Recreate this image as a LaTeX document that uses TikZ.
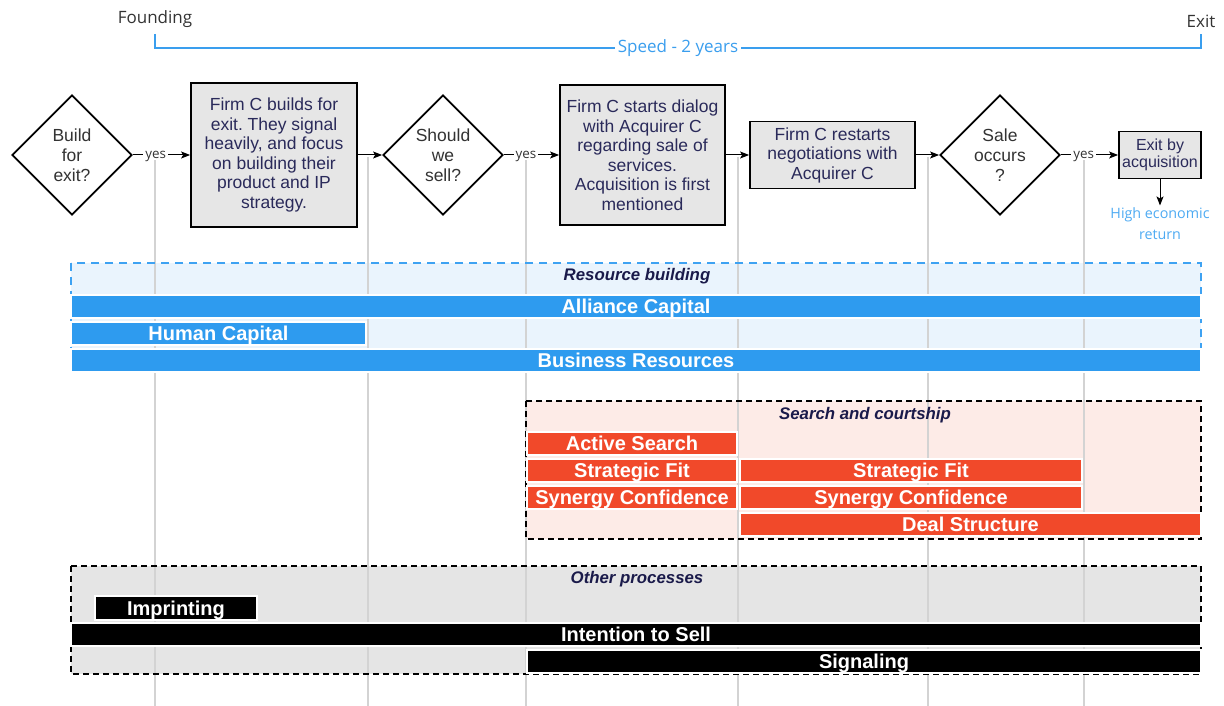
\documentclass[tikz,border=0pt]{standalone}
\usepackage{fontspec}
\setmainfont{Liberation Sans}
\newfontfamily\osans{Open Sans}
\usetikzlibrary{shapes.geometric,arrows.meta}
\definecolor{barblue}{HTML}{2E9BEF}
\definecolor{secblue}{HTML}{EAF4FD}
\definecolor{dashblue}{HTML}{3EA2F2}
\definecolor{barred}{HTML}{F1492A}
\definecolor{secpink}{HTML}{FDEBE7}
\definecolor{secgrey}{HTML}{E5E5E5}
\definecolor{gridgrey}{HTML}{D3D3D3}
\definecolor{boxgrey}{HTML}{E6E6E6}
\definecolor{navy}{HTML}{2A2A5A}
\definecolor{titlenavy}{HTML}{1A1A4A}
\definecolor{speedblue}{HTML}{3A9EEE}
\definecolor{retblue}{HTML}{4DAAF2}
\definecolor{darktext}{HTML}{333333}
\frenchspacing
\begin{document}
\begin{tikzpicture}[x=1pt,y=-1pt,
  decision/.style={diamond,aspect=1,draw=black,line width=1.8pt,fill=white,
    minimum width=120pt,minimum height=120pt,inner sep=0pt,align=center,
    text=darktext,font=\fontsize{17.5}{20}\selectfont},
  stepbox/.style={rectangle,draw=black,line width=1.8pt,fill=boxgrey,inner sep=0pt,
    align=center,text=navy,font=\fontsize{17.5}{19.5}\selectfont},
  flow/.style={draw=black,line width=1pt,-{Stealth[length=9pt,width=7pt,inset=2pt]}},
  yeslbl/.style={fill=white,inner sep=2pt,text height=7pt,text depth=0pt,text=darktext,
    font=\osans\fontsize{13.4}{14}\selectfont},
  bar/.style={rectangle,draw=white,line width=1.2pt,inner sep=0pt,minimum height=23pt,
    text=white,font=\bfseries\fontsize{20}{20}\selectfont,text height=14.3pt,text depth=0pt},
  bluebar/.style={bar,fill=barblue},
  redbar/.style={bar,fill=barred},
  blackbar/.style={bar,fill=black},
  sectitle/.style={text=titlenavy,font=\bfseries\itshape\fontsize{16.8}{18}\selectfont},
  gridline/.style={draw=gridgrey,line width=1.6pt},
]
\useasboundingbox (0,0) rectangle (1224,706);

% ---- Timeline bracket
\node[text=darktext,font=\osans\fontsize{17}{18}\selectfont] (founding) at (155,19) {Founding};
\node[text=darktext,font=\osans\fontsize{17}{18}\selectfont] (exit) at (1201,21) {Exit};
\coordinate (fstart) at (155,34);
\coordinate (fend) at (1201,34);
\draw[draw=speedblue,line width=2pt] (fstart) -- ++(0,14) -| (fend);
\node[fill=white,inner sep=3pt,text=speedblue,font=\osans\fontsize{17}{18}\selectfont] (speed) at (678,48) {Speed - 2 years};

% ---- Section backgrounds
\fill[secblue] (71,263) rectangle (1201,372);
\fill[secpink] (526,401) rectangle (1201,539);
\fill[secgrey] (71,566) rectangle (1201,674);

% ---- Grid lines
\foreach \gx in {155,368,526,738,928,1084}
  \draw[gridline] (\gx,157) -- (\gx,706);

% ---- Section borders
\draw[dashblue,line width=2pt,dash pattern=on 8pt off 6pt] (71,263) rectangle (1201,372);
\draw[black,line width=2pt,dash pattern=on 6pt off 4pt] (526,401) rectangle (1201,539);
\draw[black,line width=2pt,dash pattern=on 6pt off 4pt] (71,566) rectangle (1201,674);

% ---- Flow nodes
\node[decision] (d1) at (72,155) {Build\\for\\exit?};
\node[stepbox,minimum width=166pt,minimum height=144pt] (b1) at (274,155)
  {Firm C builds for\\exit. They signal\\heavily, and focus\\on building their\\product and IP\\strategy.};
\node[decision] (d2) at (443,155) {Should\\we\\sell?};
\node[stepbox,minimum width=165pt,minimum height=140pt] (b2) at (642.5,155)
  {Firm C starts dialog\\with Acquirer C\\regarding sale of\\services.\\Acquisition is first\\mentioned};
\node[stepbox,minimum width=165pt,minimum height=67pt] (b3) at (832.5,155)
  {Firm C restarts\\negotiations with\\Acquirer C};
\node[decision] (d3) at (1000,155) {Sale\\occurs\\?};
\node[stepbox,minimum width=82pt,minimum height=47pt,font=\fontsize{16}{17}\selectfont] (b4) at (1160,155)
  {Exit by\\acquisition};
\node[align=center,text=retblue,font=\osans\fontsize{14.3}{21}\selectfont] (ret) at (1160,224)
  {High economic\\return};

% ---- Flow connectors
\draw[flow] (d1.east) -- node[yeslbl,pos=0.4]{yes} (b1.west);
\draw[flow] (b1.east) -- (d2.west);
\draw[flow] (d2.east) -- node[yeslbl,pos=0.4]{yes} (b2.west);
\draw[flow] (b2.east) -- (b3.west);
\draw[flow] (b3.east) -- (d3.west);
\draw[flow] (d3.east) -- node[yeslbl,pos=0.4]{yes} (b4.west);
\draw[flow] (b4.south) -- ([yshift=-1pt]ret.north);

% ---- Resource building
\node[sectitle] (t1) at (637,276) {Resource building};
\node[bluebar,minimum width=1130pt] (alliance) at (636,306.5) {Alliance Capital};
\node[bluebar,minimum width=295pt] (human) at (218.5,333.5) {Human Capital};
\node[bluebar,minimum width=1130pt] (business) at (636,360.5) {Business Resources};

% ---- Search and courtship
\node[sectitle] (t2) at (865,415) {Search and courtship};
\node[redbar,minimum width=210pt] (active) at (632,443.5) {Active Search};
\node[redbar,minimum width=210pt] (sf1) at (632,470.5) {Strategic Fit};
\node[redbar,minimum width=342pt] (sf2) at (911,470.5) {Strategic Fit};
\node[redbar,minimum width=210pt] (sc1) at (632,497.5) {Synergy Confidence};
\node[redbar,minimum width=342pt] (sc2) at (911,497.5) {Synergy Confidence};
\node[redbar,minimum width=461pt] (deal) at (970.5,524.5) {Deal Structure};

% ---- Other processes
\node[sectitle] (t3) at (637,579) {Other processes};
\node[blackbar,minimum width=162pt,minimum height=24pt] (imprint) at (176,608) {Imprinting};
\node[blackbar,minimum width=1130pt] (intent) at (636,634.5) {Intention to Sell};
\node[blackbar,minimum width=674pt] (signal) at (864,661.5) {Signaling};
\end{tikzpicture}
\end{document}
